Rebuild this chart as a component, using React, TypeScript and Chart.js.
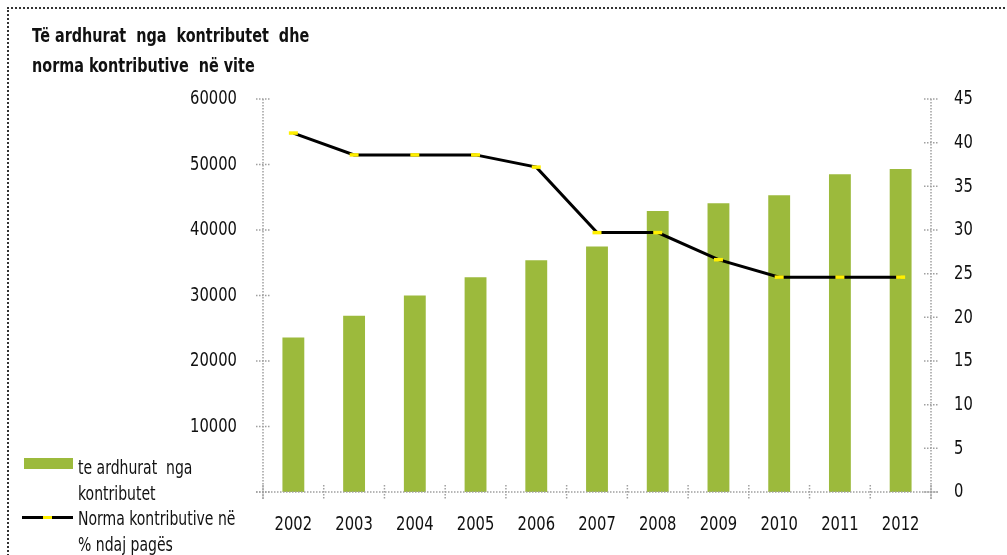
import React, { useEffect, useRef } from "react";
import { Chart, registerables } from "chart.js";

Chart.register(...registerables);

const years = ["2002", "2003", "2004", "2005", "2006", "2007", "2008", "2009", "2010", "2011", "2012"];
const revenue = [23600, 26900, 30000, 32800, 35400, 37500, 42900, 44100, 45300, 48500, 49300];
const rate = [41.1, 38.6, 38.6, 38.6, 37.2, 29.7, 29.7, 26.6, 24.6, 24.6, 24.6];
const titleLines = ["Të ardhurat  nga  kontributet  dhe", "norma kontributive  në vite"];
const legendBar = ["te ardhurat  nga", "kontributet"];
const legendLine = ["Norma kontributive në", "% ndaj pagës"];

const FONT = "'DejaVu Sans Condensed', 'DejaVu Sans', sans-serif";
const GREEN = "#9CBA3C";
const SQUEEZE = 0.82;

const axisPlugin = {
  id: "dottedAxes",
  afterDatasetsDraw(chart: any) {
    const ctx = chart.ctx;
    const { left, right, top, bottom } = chart.chartArea;
    const x = chart.scales.x;
    const y = chart.scales.y;
    const y1 = chart.scales.y1;
    ctx.save();
    ctx.strokeStyle = "#a0a0a0";
    ctx.lineWidth = 1.5;
    ctx.setLineDash([1.5, 1.5]);
    const line = (x0: number, y0: number, x1: number, y1p: number) => {
      ctx.beginPath();
      ctx.moveTo(x0, y0);
      ctx.lineTo(x1, y1p);
      ctx.stroke();
    };
    line(left, top, left, bottom + 7);
    y.ticks.forEach((t: any) => {
      const p = y.getPixelForValue(t.value);
      line(left - 7, p, left + 7, p);
    });
    line(right, top, right, bottom + 7);
    y1.ticks.forEach((t: any) => {
      const p = y1.getPixelForValue(t.value);
      line(right - 7, p, right + 7, p);
    });
    line(left - 7, bottom, right + 7, bottom);
    const step = x.getPixelForValue(1) - x.getPixelForValue(0);
    for (let i = 0; i <= years.length; i++) {
      const p = x.getPixelForValue(0) - step / 2 + i * step;
      line(p, bottom - 7, p, bottom + 7);
    }
    ctx.restore();

    // tick labels (condensed)
    ctx.save();
    ctx.fillStyle = "#111";
    ctx.font = "20px " + FONT;
    ctx.textBaseline = "middle";
    const text = (s: string, px: number, py: number, align: CanvasTextAlign) => {
      ctx.save();
      ctx.translate(px, py);
      ctx.scale(SQUEEZE, 1);
      ctx.textAlign = align;
      ctx.fillText(s, 0, 0);
      ctx.restore();
    };
    y.ticks.forEach((t: any) => {
      if (t.value === 0) return;
      text(String(t.value), left - 26, y.getPixelForValue(t.value), "right");
    });
    y1.ticks.forEach((t: any) => {
      text(String(t.value), right + 23, y1.getPixelForValue(t.value), "left");
    });
    years.forEach((lab, i) => {
      text(lab, x.getPixelForValue(i), bottom + 33, "center");
    });
    ctx.restore();
  },
};

export default function App() {
  const ref = useRef<HTMLCanvasElement | null>(null);
  useEffect(() => {
    if (!ref.current) return;
    const chart = new Chart(ref.current, {
      type: "bar",
      data: {
        labels: years,
        datasets: [
          {
            type: "line",
            label: legendLine.join(" "),
            data: rate,
            yAxisID: "y1",
            borderColor: "#000",
            borderWidth: 3,
            pointStyle: "line",
            pointRadius: 4.5,
            pointBorderColor: "#FFEF00",
            pointBorderWidth: 3.5,
            pointBackgroundColor: "#FFEF00",
            tension: 0,
            order: 1,
          } as any,
          {
            type: "bar",
            label: legendBar.join(" "),
            data: revenue,
            yAxisID: "y",
            backgroundColor: GREEN,
            barPercentage: 0.36,
            categoryPercentage: 1,
            order: 2,
          },
        ],
      },
      options: {
        animation: false,
        responsive: false,
        maintainAspectRatio: false,
        layout: { padding: { top: 99, left: 0, right: 0, bottom: 0 } },
        plugins: { legend: { display: false }, tooltip: { enabled: false }, title: { display: false } },
        scales: {
          x: {
            offset: true,
            grid: { display: false },
            border: { display: false },
            ticks: { display: false },
            afterFit: (s: any) => { s.height = 63; },
          },
          y: {
            position: "left",
            min: 0,
            max: 60000,
            grid: { display: false },
            border: { display: false },
            ticks: { display: false, stepSize: 10000 },
            afterFit: (s: any) => { s.width = 263; },
          },
          y1: {
            position: "right",
            min: 0,
            max: 45,
            grid: { display: false },
            border: { display: false },
            ticks: { display: false, stepSize: 5 },
            afterFit: (s: any) => { s.width = 76; },
          },
        },
      },
      plugins: [axisPlugin],
    });
    return () => chart.destroy();
  }, []);

  const textStyle: React.CSSProperties = { fontFamily: FONT, color: "#111", transformOrigin: "left top", whiteSpace: "pre" };
  return (
    <div style={{ position: "absolute", left: 0, top: 0, width: 1007, height: 555, overflow: "hidden", background: "#fff" }}>
      <div style={{ position: "absolute", left: 7, top: 7, width: 1010, height: 600, border: "2px dotted #333", boxSizing: "border-box" }} />
      <canvas ref={ref} width={1007} height={555} style={{ position: "absolute", left: 0, top: 0, width: 1007, height: 555 }} />
      <div style={{ ...textStyle, position: "absolute", left: 32, top: 20, fontSize: 20, fontWeight: "bold", lineHeight: "30px", transform: "scaleX(0.8)" }}>
        {titleLines.map((l, i) => (<div key={i}>{l}</div>))}
      </div>
      <div style={{ position: "absolute", left: 24, top: 455, width: 60, height: 100 }}>
        <div style={{ position: "absolute", left: 0, top: 3, width: 49, height: 11, background: GREEN }} />
        <div style={{ position: "absolute", left: -2, top: 61, width: 51, height: 3, background: "#000" }} />
        <div style={{ position: "absolute", left: 19, top: 61, width: 9, height: 3, background: "#FFEF00" }} />
      </div>
      <div style={{ ...textStyle, position: "absolute", left: 78, top: 455, fontSize: 19, lineHeight: "25.5px", transform: "scaleX(0.82)" }}>
        {legendBar.concat(legendLine).map((l, i) => (<div key={i}>{l}</div>))}
      </div>
    </div>
  );
}
